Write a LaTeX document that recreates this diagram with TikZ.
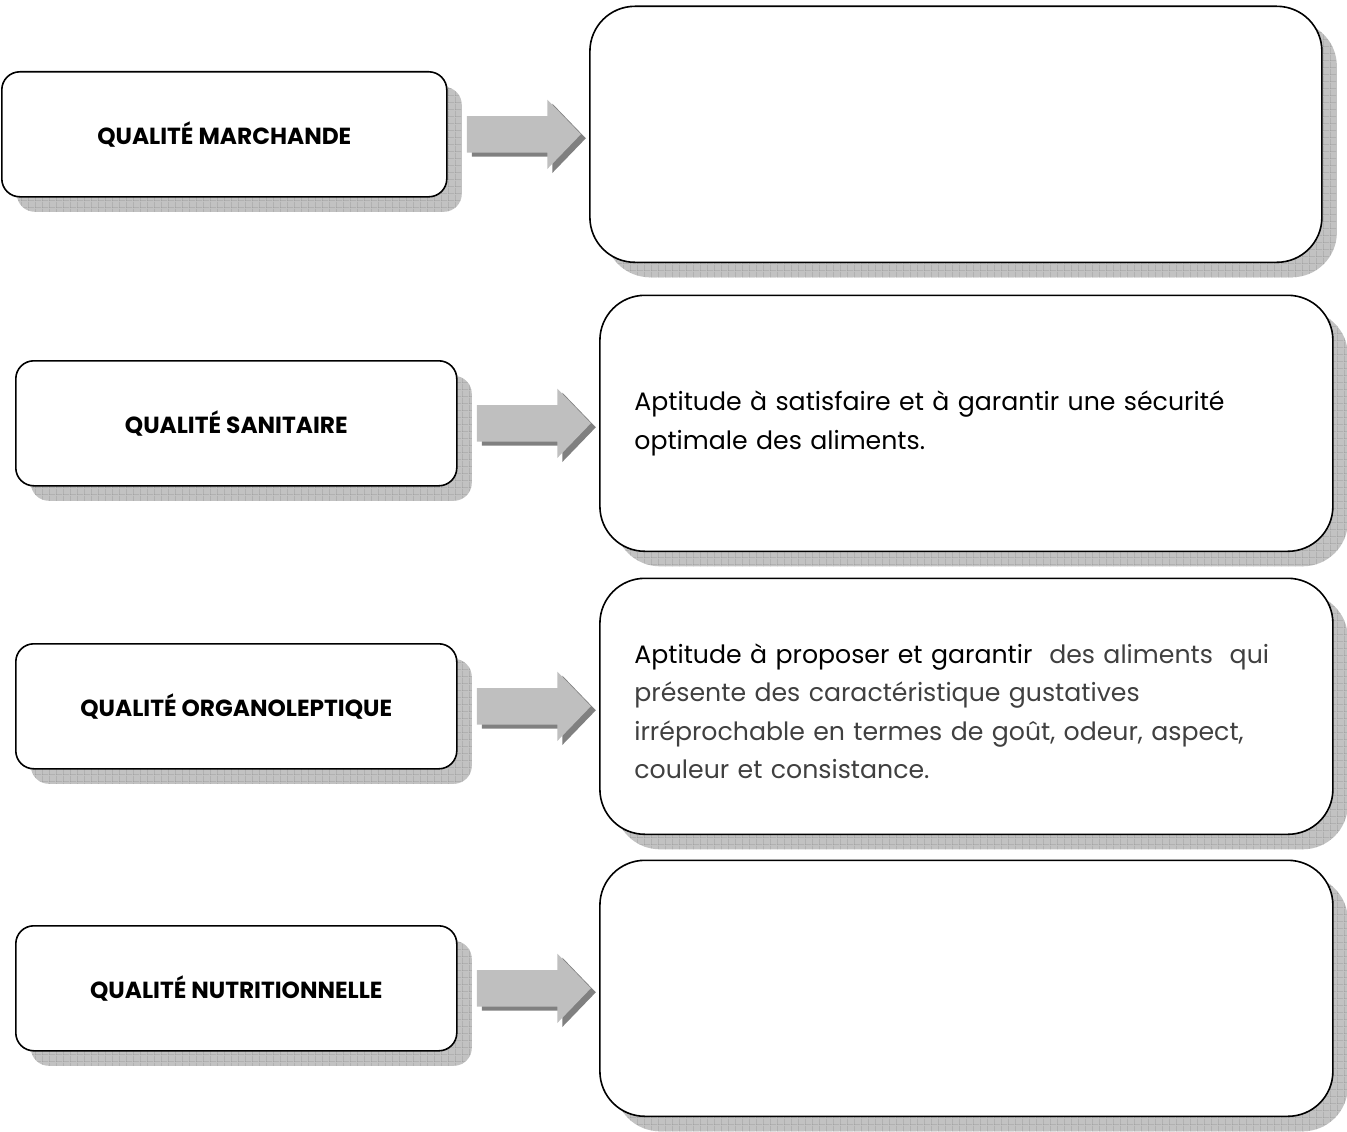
\documentclass[tikz,border=0pt]{standalone}
\usepackage{fontspec}
\setmainfont{Poppins}
\usetikzlibrary{positioning,shapes.arrows,patterns}

\pgfdeclarepatternformonly{grille}{\pgfpointorigin}{\pgfpoint{7pt}{7pt}}{\pgfpoint{7pt}{7pt}}{%
  \pgfsetlinewidth{0.6pt}%
  \pgfpathmoveto{\pgfpointorigin}\pgfpathlineto{\pgfpoint{7pt}{0pt}}%
  \pgfpathmoveto{\pgfpointorigin}\pgfpathlineto{\pgfpoint{0pt}{7pt}}%
  \pgfusepath{stroke}}

\tikzset{
  ombre/.style={preaction={fill=gray!48,transform canvas={shift={(15pt,-15pt)}}},
    preaction={pattern=grille,pattern color=gray!85,transform canvas={shift={(15pt,-15pt)}}}},
  titre/.style={ombre,draw,line width=1.6pt,fill=white,rounded corners=18pt,
    minimum width=441pt,minimum height=125pt,font=\fontsize{23.3}{27}\selectfont\bfseries},
  texte/.style={ombre,draw,line width=1.6pt,fill=white,rounded corners=45pt,
    minimum width=733pt,minimum height=256pt,text width=664pt,align=left,
    font=\fontsize{25.2}{38.5}\selectfont},
  fleche/.style={single arrow,fill=gray!50,draw=none,inner xsep=0pt,inner ysep=18pt,
    minimum height=114pt,single arrow head extend=16.5pt,single arrow tip angle=92,
    preaction={fill=gray,transform canvas={shift={(5pt,-4pt)}}}},
  suite/.style={black!75}
}

\begin{document}
\begin{tikzpicture}[x=1pt,y=-1pt]
  \useasboundingbox (0,0) rectangle (1347,1132);

  % qualité marchande
  \node[titre,anchor=north west,minimum width=445pt] (marchande) at (1,71) {QUALITÉ MARCHANDE};
  \node[fleche,right=19pt of marchande] (f1) {};
  \node[texte,right=8pt of f1,minimum width=732pt] (r1) {};

  % qualité sanitaire
  \node[titre,anchor=north west] (sanitaire) at (15,360) {QUALITÉ SANITAIRE};
  \node[fleche,right=19pt of sanitaire] (f2) {};
  \node[texte,right=8pt of f2] (r2) {Aptitude à satisfaire et à garantir une sécurité\\optimale des aliments.};

  % qualité organoleptique
  \node[titre,anchor=north west] (organo) at (15,643) {QUALITÉ ORGANOLEPTIQUE};
  \node[fleche,right=19pt of organo] (f3) {};
  \node[texte,right=8pt of f3] (r3) {\rule{0pt}{30pt}Aptitude à proposer et garantir~ \textcolor{black!75}{des aliments~ qui}\\
    \textcolor{black!75}{présente des caractéristique gustatives}\\
    \textcolor{black!75}{irréprochable en termes de goût, odeur, aspect,}\\
    \textcolor{black!75}{couleur et consistance.}};

  % qualité nutritionnelle
  \node[titre,anchor=north west] (nutri) at (15,925) {QUALITÉ NUTRITIONNELLE};
  \node[fleche,right=19pt of nutri] (f4) {};
  \node[texte,right=8pt of f4] (r4) {};
\end{tikzpicture}
\end{document}
